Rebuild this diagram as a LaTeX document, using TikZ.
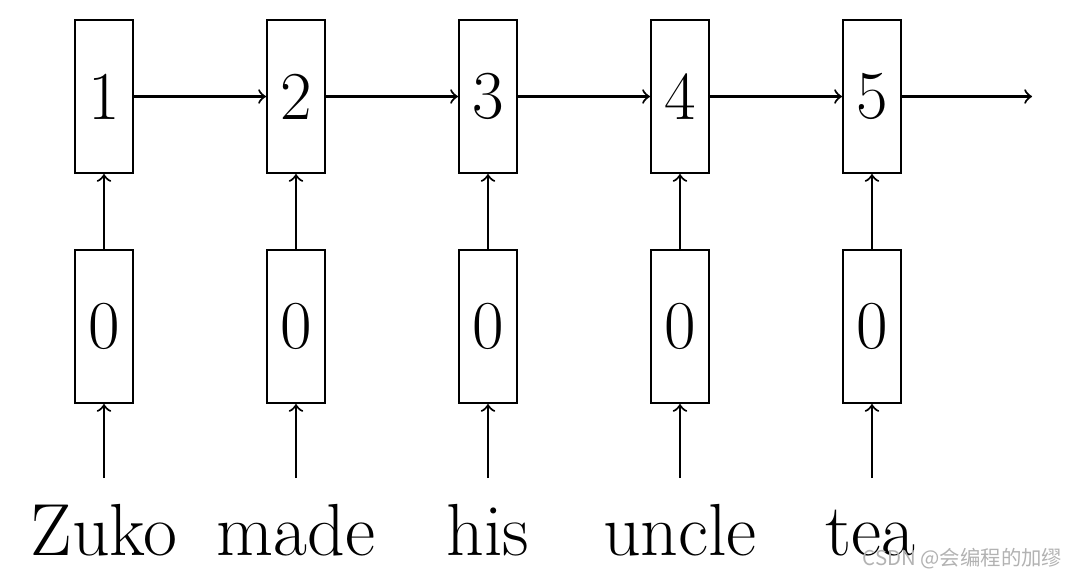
\documentclass[tikz,border=0pt]{standalone}
\usepackage{fontspec}
\newfontfamily\cjk{Noto Sans CJK SC}
\usetikzlibrary{positioning}

\begin{document}
\begin{tikzpicture}[
    cell/.style={draw, line width=0.6pt, minimum width=0.58cm, minimum height=1.53cm,
                 inner sep=0pt, font=\fontsize{19.5}{22}\selectfont},
    word/.style={anchor=base, inner sep=0pt, font=\fontsize{21}{24}\selectfont},
    link/.style={->, line width=0.6pt}
]
    \useasboundingbox (0,0) rectangle (10.68,5.76);

    % hidden states
    \node[cell] (h1) at (1.04,4.795) {1};
    \node[cell] (h2) at (2.96,4.795) {2};
    \node[cell] (h3) at (4.88,4.795) {3};
    \node[cell] (h4) at (6.80,4.795) {4};
    \node[cell] (h5) at (8.72,4.795) {5};

    % inputs
    \node[cell] (x1) at (1.04,2.495) {0};
    \node[cell] (x2) at (2.96,2.495) {0};
    \node[cell] (x3) at (4.88,2.495) {0};
    \node[cell] (x4) at (6.80,2.495) {0};
    \node[cell] (x5) at (8.72,2.495) {0};

    % words
    \node[word] (w1) at (1.04,0.21) {Zuko};
    \node[word] (w2) at (2.96,0.21) {made};
    \node[word] (w3) at (4.88,0.21) {his};
    \node[word] (w4) at (6.80,0.21) {uncle};
    \node[word] (w5) at (8.70,0.21) {tea};

    \coordinate (s1) at (1.04,0.98);
    \coordinate (s2) at (2.96,0.98);
    \coordinate (s3) at (4.88,0.98);
    \coordinate (s4) at (6.80,0.98);
    \coordinate (s5) at (8.72,0.98);
    \coordinate (out) at (10.32,4.795);

    \draw[link] (h1) -- (h2);
    \draw[link] (h2) -- (h3);
    \draw[link] (h3) -- (h4);
    \draw[link] (h4) -- (h5);
    \draw[link] (h5) -- (out);

    \draw[link] (x1) -- (h1);
    \draw[link] (x2) -- (h2);
    \draw[link] (x3) -- (h3);
    \draw[link] (x4) -- (h4);
    \draw[link] (x5) -- (h5);

    \draw[link] (s1) -- (x1);
    \draw[link] (s2) -- (x2);
    \draw[link] (s3) -- (x3);
    \draw[link] (s4) -- (x4);
    \draw[link] (s5) -- (x5);

    \node[anchor=base east, inner sep=0pt, text=black!30, font=\cjk\fontsize{5.8}{7}\selectfont]
        (mark) at (10.63,0.11) {CSDN @会编程的加缪};
\end{tikzpicture}
\end{document}
